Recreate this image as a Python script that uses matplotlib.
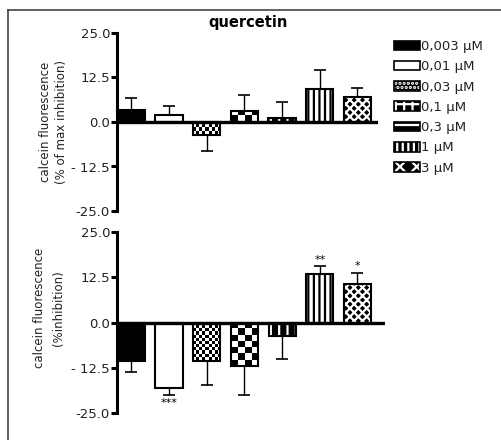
import numpy as np
import matplotlib
matplotlib.use("Agg")
import matplotlib.pyplot as plt
from matplotlib.patches import Patch
from matplotlib.lines import Line2D

plt.rcParams['font.family'] = ['DejaVu Sans']
plt.rcParams['hatch.linewidth'] = 1.6

labels = ['0,003 µM', '0,01 µM', '0,03 µM', '0,1 µM', '0,3 µM', '1 µM', '3 µM']
top_mean = [3.4, 2.0, -3.7, 3.1, 1.1, 9.3, 7.0]
top_err = [3.3, 2.5, 4.4, 4.5, 4.5, 5.3, 2.5]
bot_mean = [-10.5, -18.0, -10.5, -11.9, -3.6, 13.3, 10.5]
bot_err = [3.3, 2.0, 6.9, 8.0, 6.6, 2.4, 3.3]
bot_sig = ['', '***', '', '', '', '**', '*']
yticks = [-25.0, -12.5, 0.0, 12.5, 25.0]
ytick_labels = ['-25.0', '- 12.5', '0.0', '12.5', '25.0']

W = 0.72
# (face, hatch colour, hatch, checker cols)
styles = [
    ('black', None, None, 0),
    ('white', None, None, 0),
    (None, None, None, 9),
    (None, None, None, 4),
    ('black', 'white', '||', 0),
    ('white', 'black', '|||', 0),
    ('black', 'white', 'xxxx', 0),
]
legend_styles = [
    ('black', None, None),
    ('white', None, None),
    ('black', 'white', '....'),
    ('black', 'white', '++'),
    ('black', 'white', '-'),
    ('black', 'white', '|||'),
    ('black', 'white', 'xx'),
]


def draw_panel(ax, means, errs, xmax):
    x = np.arange(len(means))
    for i, (m, e) in enumerate(zip(means, errs)):
        face, hcol, hatch, ncols = styles[i]
        if ncols:
            rect = ax.bar(x[i], m, W, facecolor='none', edgecolor='black', lw=1.5, zorder=3)[0]
            cell_h = 0.85 if ncols > 5 else 1.7
            nrows = int(np.ceil(abs(m) / cell_h)) + 1
            arr = np.add.outer(np.arange(nrows), np.arange(ncols)) % 2
            y1 = np.sign(m) * nrows * cell_h
            im = ax.imshow(arr, cmap='gray', interpolation='nearest', aspect='auto',
                           extent=(x[i] - W / 2, x[i] + W / 2, min(0, y1), max(0, y1)), zorder=2)
            im.set_clip_path(rect)
        else:
            if hatch:
                ax.bar(x[i], m, W, facecolor=face, edgecolor=hcol, hatch=hatch, lw=0, zorder=2)
                ax.bar(x[i], m, W, fill=False, edgecolor='black', lw=1.5, zorder=3)
            else:
                ax.bar(x[i], m, W, facecolor=face, edgecolor='black', lw=1.5, zorder=3)
        lo = e if m < 0 else 0
        hi = e if m >= 0 else 0
        ax.errorbar(x[i], m, yerr=[[lo], [hi]], fmt='none', ecolor='black',
                    elinewidth=1.0, capsize=4.5, capthick=1.2, zorder=1)
    ax.axhline(0, color='black', lw=2.4, zorder=4)
    ax.set_xlim(-0.38, xmax)
    ax.set_ylim(-25, 25)
    ax.set_yticks(yticks)
    ax.set_yticklabels(ytick_labels)
    ax.set_xticks([])
    for s in ['top', 'right', 'bottom']:
        ax.spines[s].set_visible(False)
    ax.spines['left'].set_linewidth(2.2)
    ax.tick_params(axis='y', length=4, width=2.2, pad=1, labelsize=9.5, colors='black',
                   labelcolor='#222222')
    return x


fig = plt.figure(figsize=(5.01, 4.40), dpi=100)
ax1 = fig.add_axes([117 / 501, 1 - 211 / 440, 261 / 501, 178 / 440])
ax2 = fig.add_axes([117 / 501, 1 - 413 / 440, 268 / 501, 181 / 440])

draw_panel(ax1, top_mean, top_err, 6.55)
x = draw_panel(ax2, bot_mean, bot_err, 6.73)

for i, s in enumerate(bot_sig):
    if not s:
        continue
    m, e = bot_mean[i], bot_err[i]
    if m < 0:
        ax2.text(x[i], m - e - 0.8, s, ha='center', va='top', fontsize=8)
    else:
        ax2.text(x[i], m + e + 0.3, s, ha='center', va='bottom', fontsize=8)

ax1.set_ylabel('calcein fluorescence\n(% of max inhibition)', fontsize=8.5,
               color='#222222', linespacing=1.3)
ax2.set_ylabel('calcein fluorescence\n(%inhibition)', fontsize=8.5,
               color='#222222', linespacing=1.6)
ax1.yaxis.set_label_coords(-0.188, 0.5)
ax2.yaxis.set_label_coords(-0.195, 0.58)

fig.text(248 / 501, 1 - 23 / 440, 'quercetin', ha='center', va='center',
         fontsize=10.5, fontweight='bold')

handles = []
for face, hcol, hatch in legend_styles:
    if hatch:
        handles.append((Patch(facecolor=face, edgecolor=hcol, hatch=hatch, lw=0),
                        Patch(fill=False, edgecolor='black', lw=1.2)))
    else:
        handles.append(Patch(facecolor=face, edgecolor='black', lw=1.2))
fig.legend(handles, labels, loc='upper left', bbox_to_anchor=(394 / 501, 1 - 40 / 440),
           frameon=False, fontsize=9.5, handlelength=2.0, handleheight=0.75,
           handletextpad=0.05, labelspacing=0.55, borderaxespad=0, borderpad=0,
           labelcolor='#222222')

# open frame around the figure
fig.add_artist(Line2D([7.5 / 501, 1], [1 - 10 / 440] * 2, color='#444444', lw=1.2))
fig.add_artist(Line2D([7.5 / 501] * 2, [0, 1 - 10 / 440], color='#444444', lw=1.2))

fig.savefig('out.png', dpi=100)
